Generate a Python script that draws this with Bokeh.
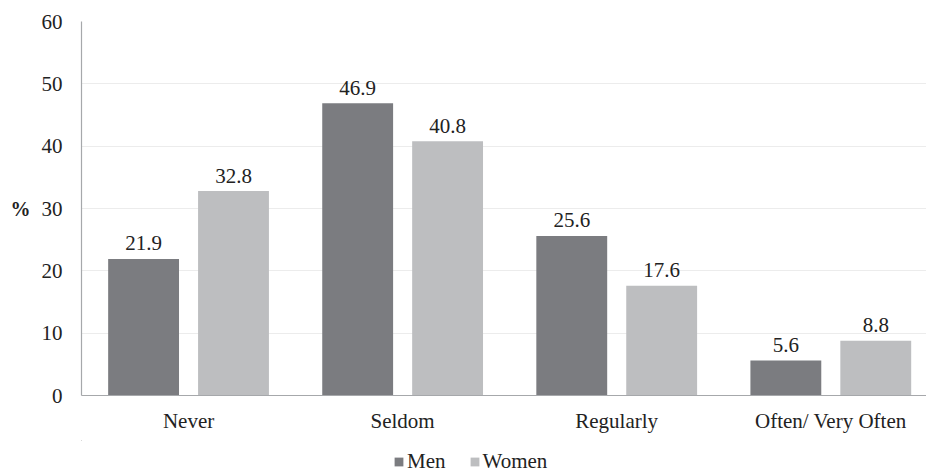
from bokeh.plotting import figure
from bokeh.layouts import column
from bokeh.models import ColumnDataSource, Range1d, FixedTicker, Legend, LegendItem
from bokeh.transform import dodge
from bokeh.core.properties import value
from bokeh.embed import file_html
from bokeh.resources import INLINE

categories = ["Never", "Seldom", "Regularly", "Often/ Very Often"]
men = [21.9, 46.9, 25.6, 5.6]
women = [32.8, 40.8, 17.6, 8.8]
y_ticks = [0, 10, 20, 30, 40, 50, 60]
series_names = ["Men", "Women"]

FONT = "Liberation Serif"
GLYPH_FONT = "'Liberation Serif'"
MEN_C = "#7b7c80"
WOMEN_C = "#bdbec0"
TEXT_C = "#222222"

xpos = [i + 0.5 for i in range(len(categories))]
src = ColumnDataSource(dict(
    x=xpos, men=men, women=women,
    men_lbl=[f"{v:.1f}" for v in men],
    women_lbl=[f"{v:.1f}" for v in women],
))

p = figure(width=926, height=440, output_backend="svg", toolbar_location=None,
           x_range=Range1d(0, 3.947), y_range=Range1d(0, 60),
           min_border_left=81, min_border_right=0, min_border_top=21,
           min_border_bottom=45)
p.outline_line_color = None
p.background_fill_color = "white"
p.border_fill_color = "white"

bw = 0.331
p.vbar(x=dodge("x", -0.21, range=p.x_range), top="men", width=bw, source=src,
       fill_color=MEN_C, line_color=None)
p.vbar(x=dodge("x", 0.21, range=p.x_range), top="women", width=bw, source=src,
       fill_color=WOMEN_C, line_color=None)

p.text(x=dodge("x", -0.21, range=p.x_range), y="men", text="men_lbl", source=src,
       text_font=value(GLYPH_FONT), text_font_size="21px", text_color=TEXT_C,
       text_align="center", text_baseline="alphabetic", y_offset=-15.5)
p.text(x=dodge("x", 0.21, range=p.x_range), y="women", text="women_lbl", source=src,
       text_font=value(GLYPH_FONT), text_font_size="21px", text_color=TEXT_C,
       text_align="center", text_baseline="alphabetic", y_offset=-15.5)

# axes
p.xaxis.ticker = FixedTicker(ticks=xpos)
p.xaxis.major_label_overrides = {x: c for x, c in zip(xpos, categories)}
p.yaxis.ticker = FixedTicker(ticks=y_ticks)
for ax in (p.xaxis[0], p.yaxis[0]):
    ax.major_tick_line_color = None
    ax.minor_tick_line_color = None
    ax.major_tick_out = 0
    ax.major_tick_in = 0
    ax.axis_line_color = "#a6a8ab"
    ax.axis_line_width = 1.2
    ax.major_label_text_font = FONT
    ax.major_label_text_font_size = "21px"
    ax.major_label_text_color = TEXT_C
p.xaxis.major_label_standoff = 13
p.yaxis.major_label_standoff = 19
p.yaxis.axis_label = "%"
p.yaxis.axis_label_orientation = "horizontal"
p.yaxis.axis_label_text_font = FONT
p.yaxis.axis_label_text_font_style = "bold"
p.yaxis.axis_label_text_font_size = "20px"
p.yaxis.axis_label_text_color = TEXT_C
p.yaxis.axis_label_standoff = 8

p.xgrid.grid_line_color = None
p.ygrid.grid_line_color = "#ececec"
p.ygrid.grid_line_width = 1

# legend strip below the chart (its bars lie outside its visible ranges;
# they only provide the legend swatches)
lg = figure(width=926, height=32, output_backend="svg", toolbar_location=None,
            x_axis_type=None, y_axis_type=None,
            x_range=Range1d(100, 101), y_range=Range1d(-200, -100),
            min_border_left=0, min_border_right=0, min_border_top=0,
            min_border_bottom=0)
lg.outline_line_color = None
lg.xgrid.grid_line_color = None
lg.ygrid.grid_line_color = None
lr_men = lg.vbar(x="x", top="men", width=0.1, source=src,
                 fill_color=MEN_C, line_color=None)
lr_women = lg.vbar(x="x", top="women", width=0.1, source=src,
                   fill_color=WOMEN_C, line_color=None)

legend = Legend(items=[LegendItem(label=series_names[0], renderers=[lr_men]),
                       LegendItem(label=series_names[1], renderers=[lr_women])],
                orientation="horizontal", location=(312, -2),
                label_text_font=FONT, label_text_font_size="21px",
                label_text_color=TEXT_C, glyph_width=11, glyph_height=11,
                label_standoff=3, spacing=23, padding=0, margin=0,
                border_line_color=None, background_fill_alpha=0,
                label_height=14)
lg.add_layout(legend, "center")

layout = column(p, lg, spacing=0)
open("out.html", "w").write(file_html(layout, INLINE))
